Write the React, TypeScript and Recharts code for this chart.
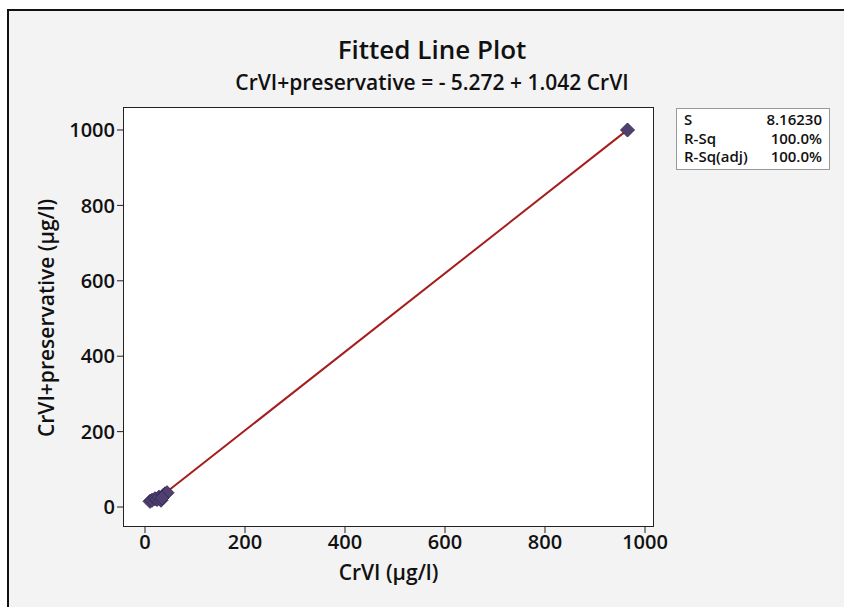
import React from 'react';
import { ComposedChart, Scatter, Line, XAxis, YAxis } from 'recharts';

const xTicks = [0, 200, 400, 600, 800, 1000];
const yTicks = [0, 200, 400, 600, 800, 1000];

// observed pairs (CrVI, CrVI+preservative)
const crvi = [10, 14, 20, 24, 28, 32, 36, 40, 44, 34, 965];
const crviPres = [15, 18, 22, 20, 26, 18, 30, 35, 38, 24, 1000];

// fitted line endpoints: y = -5.272 + 1.042x
const fitX = [12, 965];
const fitY = [7.2, 1000.3];

const stats = [
  { label: 'S', value: '8.16230' },
  { label: 'R-Sq', value: '100.0%' },
  { label: 'R-Sq(adj)', value: '100.0%' },
];

const points = crvi.map((x, i) => ({ x, y: crviPres[i] }));
const fitData = fitX.map((x, i) => ({ x, y: fitY[i] }));

const font = '"Open Sans", "Noto Sans", sans-serif';

const Diamond = (props: any) => {
  const { cx, cy } = props;
  const r = 7;
  return (
    <polygon
      points={`${cx},${cy - r} ${cx + r},${cy} ${cx},${cy + r} ${cx - r},${cy}`}
      fill="#4f4070"
      stroke="#3a2c58"
      strokeWidth={1}
    />
  );
};

export default function App() {
  return (
    <div style={{ position: 'fixed', left: 0, top: 0, width: 844, height: 607, overflow: 'hidden', background: '#fff', fontFamily: font }}>
      <div style={{ position: 'absolute', left: 7, top: 9, right: 0, bottom: 0, borderLeft: '2px solid #111', borderTop: '2px solid #111', background: '#f3f3f3' }} />
      <div style={{ position: 'absolute', left: 0, width: 864, top: 32, textAlign: 'center', fontSize: 26, fontWeight: 600, color: '#111', lineHeight: '35px' }}>
        Fitted Line Plot
      </div>
      <div style={{ position: 'absolute', left: 0, width: 864, top: 68, textAlign: 'center', fontSize: 21, fontWeight: 600, color: '#111', lineHeight: '28px' }}>
        CrVI+preservative = - 5.272 + 1.042 CrVI
      </div>
      <div style={{ position: 'absolute', left: 123, top: 107, width: 531, height: 420, background: '#fff', border: '1px solid #222', boxSizing: 'border-box' }} />
      <div style={{ position: 'absolute', left: 676, top: 108, width: 154, height: 62, background: '#fff', border: '1px solid #999', boxSizing: 'border-box', padding: '1px 7px', fontSize: 15, fontWeight: 600, color: '#111', lineHeight: '18.5px' }}>
        {stats.map((s) => (
          <div key={s.label} style={{ display: 'flex', justifyContent: 'space-between' }}>
            <span>{s.label}</span>
            <span>{s.value}</span>
          </div>
        ))}
      </div>
      <div style={{ position: 'absolute', left: 0, top: 0 }}>
        <ComposedChart width={844} height={607} margin={{ top: 107, right: 190, bottom: 50, left: 63 }}>
          <XAxis
            dataKey="x"
            type="number"
            domain={[-44, 1018]}
            ticks={xTicks}
            allowDataOverflow
            axisLine={false}
            tickLine={{ stroke: '#222' }}
            tickSize={6}
            height={30}
            tick={{ fill: '#111', fontSize: 20, fontWeight: 600, fontFamily: font }}
            label={{ value: 'CrVI (µg/l)', position: 'insideBottom', offset: -23, fill: '#111', fontSize: 21, fontWeight: 600, fontFamily: font }}
          />
          <YAxis
            dataKey="y"
            type="number"
            domain={[-53, 1061]}
            ticks={yTicks}
            allowDataOverflow
            axisLine={false}
            tickLine={{ stroke: '#222' }}
            tickSize={6}
            width={60}
            tick={{ fill: '#111', fontSize: 20, fontWeight: 600, fontFamily: font }}
            label={{ value: 'CrVI+preservative (µg/l)', angle: -90, position: 'insideLeft', offset: -16, dy: 120, fill: '#111', fontSize: 21, fontWeight: 600, fontFamily: font }}
          />
          <Line data={fitData} dataKey="y" stroke="#a51d1d" strokeWidth={2} dot={false} isAnimationActive={false} />
          <Scatter data={points} dataKey="y" shape={<Diamond />} isAnimationActive={false} />
        </ComposedChart>
      </div>
    </div>
  );
}
